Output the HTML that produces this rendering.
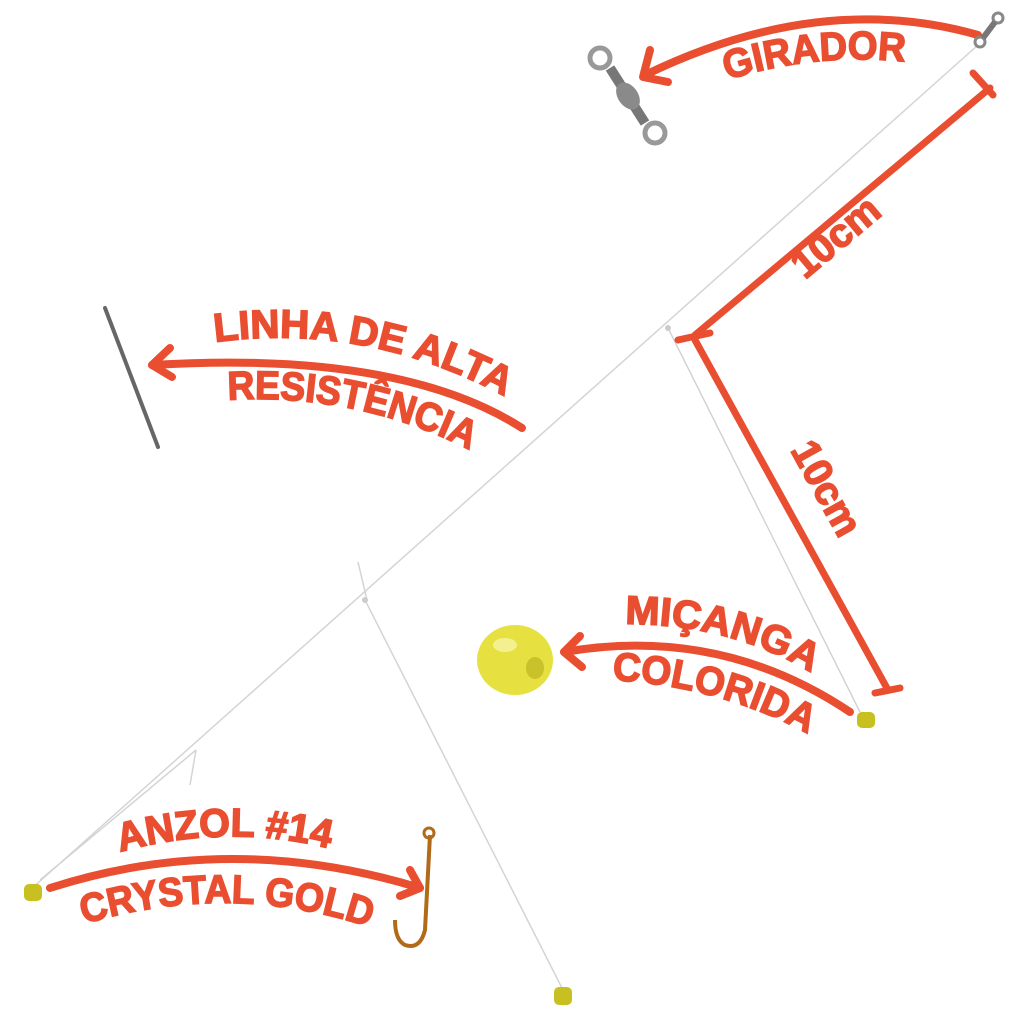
<!DOCTYPE html>
<html><head><meta charset="utf-8"><style>
html,body{margin:0;padding:0;background:#fff;width:1024px;height:1024px;overflow:hidden}
text{font-family:"Liberation Sans",sans-serif;font-weight:bold;fill:#ea4e30;stroke:#ea4e30;stroke-width:1.6}
</style></head><body>
<svg width="1024" height="1024" viewBox="0 0 1024 1024" xmlns="http://www.w3.org/2000/svg">
<defs>
<path id="p1" d="M727,80 Q815,52 908,62"/>
<path id="p2" d="M215,342 Q365,322 502,395"/>
<path id="p3" d="M228,400 Q355,392 470,450"/>
<path id="p4" d="M625,624 Q730,624 810,672"/>
<path id="p5" d="M612,680 Q720,686 808,734"/>
<path id="p6" d="M120,852 Q228,822 336,850"/>
<path id="p7" d="M84,924 Q230,880 372,928"/>
</defs>
<g stroke="#d4d4d4" stroke-width="1.5" fill="none">
<path d="M978,45 L30,890"/>
<path d="M668,328 L860,712"/>
<path d="M365,600 L563,990"/>
<path d="M196,750 L40,880"/>
<path d="M358,562 L367,600"/>
<path d="M190,785 L196,750"/>
</g>
<circle cx="668" cy="328" r="3" fill="#ccc"/>
<circle cx="365" cy="600" r="3" fill="#ccc"/>
<g stroke="#ea4e30" stroke-width="7" stroke-linecap="round" fill="none">
<path d="M990,88 L695,335"/>
<path d="M973,73 L993,95"/>
<path d="M678,340 L710,333"/>
<path d="M695,340 L888,690"/>
<path d="M875,693 L900,688"/>
</g>
<text font-size="40" transform="translate(805,280) rotate(-40)">10cm</text>
<text font-size="40" transform="translate(790,450) rotate(61)">10cm</text>
<g stroke="#ea4e30" stroke-width="8" stroke-linecap="round" stroke-linejoin="round" fill="none">
<path d="M978,35 Q820,-10 645,75"/>
<path d="M650,50 L643,77 L668,82"/>
<path d="M522,428 Q400,350 152,365"/>
<path d="M170,348 L152,365 L172,377"/>
<path d="M850,712 Q720,625 564,652"/>
<path d="M580,636 L564,652 L582,667"/>
<path d="M50,888 Q230,830 420,888"/>
<path d="M410,870 L420,888 L400,896"/>
</g>
<text font-size="40"><textPath href="#p1" textLength="180" lengthAdjust="spacingAndGlyphs">GIRADOR</textPath></text>
<text font-size="40"><textPath href="#p2" textLength="300" lengthAdjust="spacingAndGlyphs">LINHA DE ALTA</textPath></text>
<text font-size="40"><textPath href="#p3" textLength="250" lengthAdjust="spacingAndGlyphs">RESISTÊNCIA</textPath></text>
<text font-size="40"><textPath href="#p4" textLength="195" lengthAdjust="spacingAndGlyphs">MIÇANGA</textPath></text>
<text font-size="40"><textPath href="#p5" textLength="205" lengthAdjust="spacingAndGlyphs">COLORIDA</textPath></text>
<text font-size="40"><textPath href="#p6" textLength="212" lengthAdjust="spacingAndGlyphs">ANZOL #14</textPath></text>
<text font-size="40"><textPath href="#p7" textLength="290" lengthAdjust="spacingAndGlyphs">CRYSTAL GOLD</textPath></text>
<g fill="none" stroke="#999" stroke-width="5">
<circle cx="600" cy="58" r="10"/>
<circle cx="655" cy="133" r="10"/>
</g>
<path d="M610,68 L645,123" stroke="#777" stroke-width="10"/>
<ellipse cx="628" cy="96" rx="10" ry="15" transform="rotate(-35 628 96)" fill="#8a8a8a"/>
<g fill="none" stroke="#888" stroke-width="3">
<circle cx="998" cy="18" r="5"/><circle cx="980" cy="42" r="5"/>
</g>
<path d="M995,22 L983,38" stroke="#777" stroke-width="6"/>
<path d="M105,308 L158,447" stroke="#666" stroke-width="4" stroke-linecap="round"/>
<ellipse cx="515" cy="660" rx="38" ry="35" fill="#e6e040"/>
<ellipse cx="535" cy="668" rx="9" ry="11" fill="#c9c22a"/>
<ellipse cx="505" cy="645" rx="12" ry="7" fill="#f4f090"/>
<rect x="857" y="712" width="18" height="16" rx="5" fill="#c8c020"/>
<rect x="24" y="884" width="18" height="17" rx="5" fill="#c8c020"/>
<rect x="554" y="987" width="18" height="18" rx="5" fill="#c8c020"/>
<path d="M430,835 L425,930 Q420,950 405,945 Q395,940 395,920" fill="none" stroke="#b06a18" stroke-width="4"/>
<circle cx="429" cy="833" r="5" fill="none" stroke="#b06a18" stroke-width="3"/>
</svg>
</body></html>
